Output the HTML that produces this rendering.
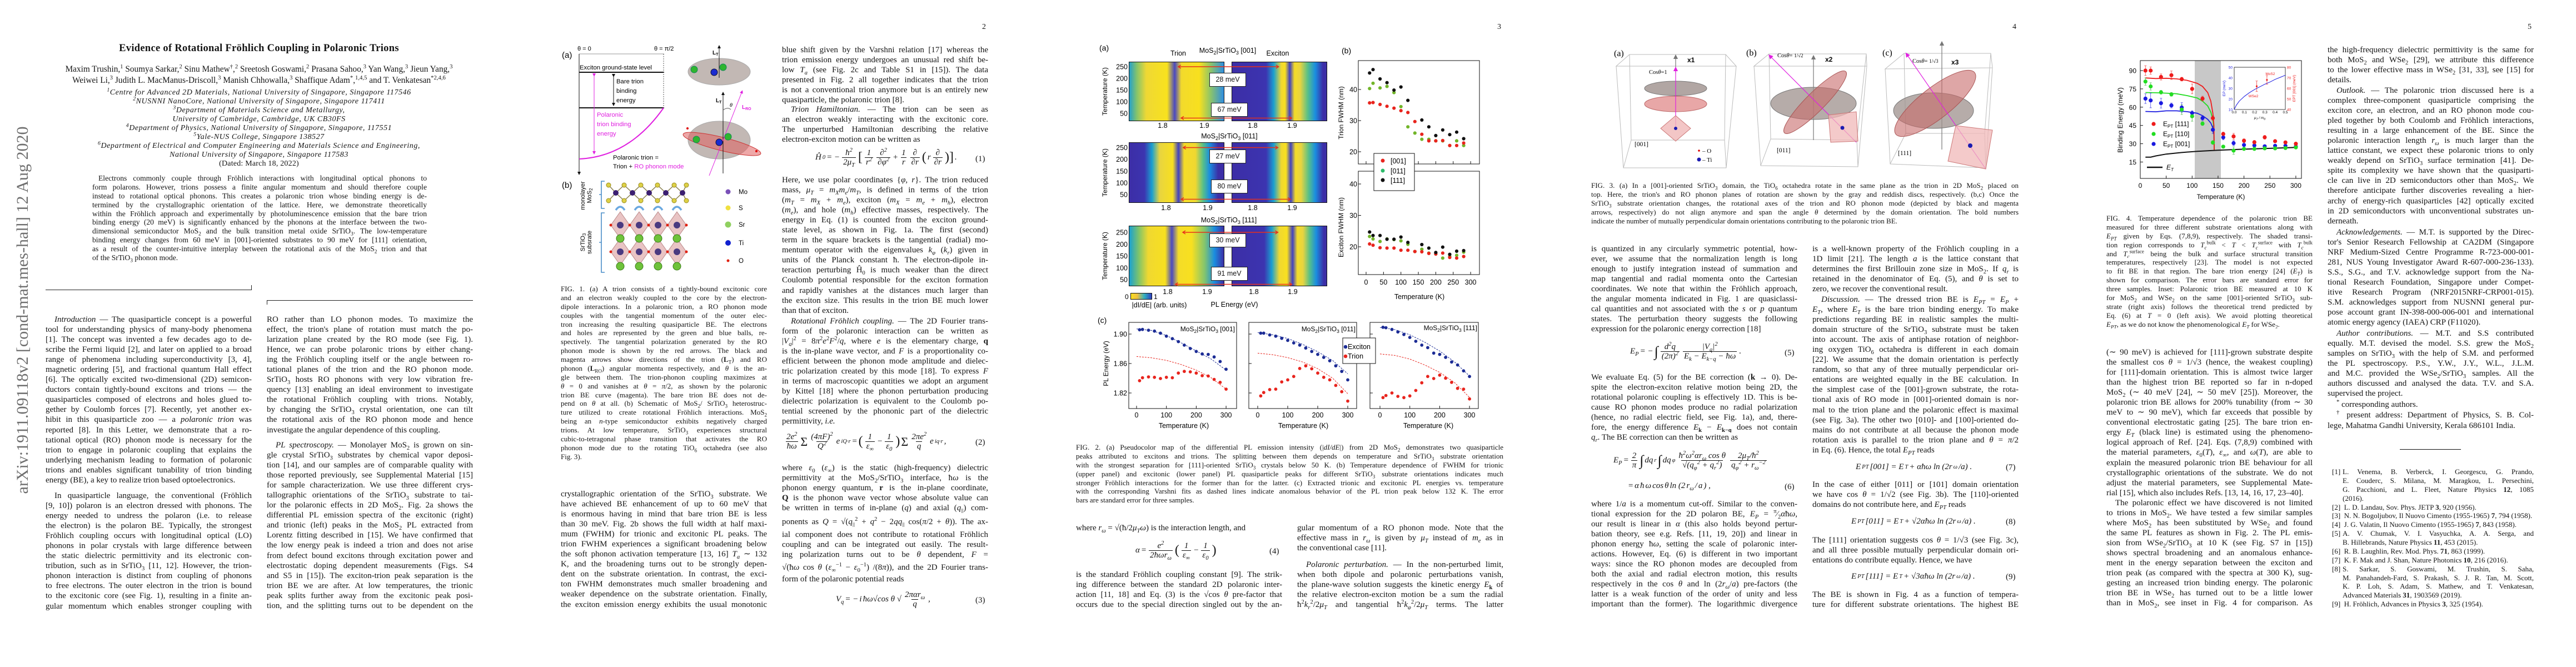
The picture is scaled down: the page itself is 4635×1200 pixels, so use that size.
<!DOCTYPE html>
<html><head><meta charset="utf-8"><title>Evidence of Rotational Fröhlich Coupling in Polaronic Trions</title>
<style>
html,body{margin:0;padding:0;background:#fff}
body{width:4635px;height:1200px;position:relative;overflow:hidden;font-family:"Liberation Serif",serif;color:#141414}
.pg{position:absolute;top:0;width:927px;height:1200px;overflow:hidden}
.a{position:absolute}
.col{position:absolute;width:371px;font-size:15px}
.col>div{height:18.06px;line-height:18.06px;text-align:justify;text-align-last:justify;overflow:hidden;white-space:normal}
.col>div.e{text-align-last:left}
.col>div.i{text-indent:16px}
.cap{position:absolute;width:371px;font-size:13px}
.cap.w{width:769px}
.cap>div{height:15.88px;line-height:15.88px;text-align:justify;text-align-last:justify;overflow:hidden}
.cap>div.e{text-align-last:left}
sub,sup{font-size:70%;line-height:0}
.pn{position:absolute;left:840px;top:41px;font-size:14px}
.eq{position:absolute;font-size:15px;font-style:italic;white-space:nowrap;display:flex;align-items:center;gap:2px}
.fr{display:inline-flex;flex-direction:column;align-items:center;vertical-align:middle;margin:0 2px}
.fr>span{line-height:16px;padding:0 2px}
.fr>span+span{border-top:1px solid #141414}
.eqn{position:absolute;left:828px;font-size:15px}
.sv{position:absolute;left:0;top:0}
.hm{position:absolute;border:1px solid #111;box-sizing:border-box}
.lb{position:absolute;font-family:"Liberation Sans",sans-serif;font-size:12.5px;white-space:nowrap}
.box{position:absolute;background:#fff;border:1.3px solid #222;box-sizing:border-box;font-family:"Liberation Sans",sans-serif;font-size:12.5px;text-align:center;line-height:22px}
</style></head>
<body>

<!-- ================= PAGE 1 ================= -->
<div class="pg" style="left:0">
  <div class="a" style="left:-309px;top:538px;width:700px;height:40px;line-height:40px;text-align:center;font-size:30px;color:#6e6e6e;transform:rotate(-90deg)">arXiv:1911.09118v2 [cond-mat.mes-hall] 12 Aug 2020</div>
  <div class="a" style="left:0;width:932px;top:77px;text-align:center;font-size:18.5px;font-weight:bold;letter-spacing:0.3px">Evidence of Rotational Fröhlich Coupling in Polaronic Trions</div>
  <div class="a" style="left:0;width:932px;top:115px;text-align:center;font-size:15.3px;line-height:19.5px">Maxim Trushin,<sup>1</sup> Soumya Sarkar,<sup>2</sup> Sinu Mathew<sup>†</sup>,<sup>2</sup> Sreetosh Goswami,<sup>2</sup> Prasana Sahoo,<sup>3</sup> Yan Wang,<sup>3</sup> Jieun Yang,<sup>3</sup><br>Weiwei Li,<sup>3</sup> Judith L. MacManus-Driscoll,<sup>3</sup> Manish Chhowalla,<sup>3</sup> Shaffique Adam<sup>*</sup>,<sup>1,4,5</sup> and T. Venkatesan<sup>*2,4,6</sup></div>
  <div class="a" style="left:0;width:932px;top:159px;text-align:center;font-size:14px;line-height:16px;font-style:italic;letter-spacing:0.55px">
    <div><sup>1</sup>Centre for Advanced 2D Materials, National University of Singapore, Singapore 117546</div>
    <div><sup>2</sup>NUSNNI NanoCore, National University of Singapore, Singapore 117411</div>
    <div><sup>3</sup>Department of Materials Science and Metallurgy,</div>
    <div>University of Cambridge, Cambridge, UK CB30FS</div>
    <div><sup>4</sup>Department of Physics, National University of Singapore, Singapore, 117551</div>
    <div><sup>5</sup>Yale-NUS College, Singapore 138527</div>
    <div><sup>6</sup>Department of Electrical and Computer Engineering and Materials Science and Engineering,</div>
    <div>National University of Singapore, Singapore 117583</div>
    <div style="font-style:normal;letter-spacing:0.2px">(Dated: March 18, 2022)</div>
  </div>
  <div class="cap" style="left:166px;top:313px;width:602px;font-size:13.6px">
    <div style="text-indent:11px">Electrons commonly couple through Fröhlich interactions with longitudinal optical phonons to</div>
    <div>form polarons. However, trions possess a finite angular momentum and should therefore couple</div>
    <div>instead to rotational optical phonons. This creates a polaronic trion whose binding energy is de-</div>
    <div>termined by the crystallographic orientation of the lattice. Here, we demonstrate theoretically</div>
    <div>within the Fröhlich approach and experimentally by photoluminescence emission that the bare trion</div>
    <div>binding energy (20 meV) is significantly enhanced by the phonons at the interface between the two-</div>
    <div>dimensional semiconductor MoS<sub>2</sub> and the bulk transition metal oxide SrTiO<sub>3</sub>. The low-temperature</div>
    <div>binding energy changes from 60 meV in [001]-oriented substrates to 90 meV for [111] orientation,</div>
    <div>as a result of the counter-intuitive interplay between the rotational axis of the MoS<sub>2</sub> trion and that</div>
    <div class="e">of the SrTiO<sub>3</sub> phonon mode.</div>
  </div>
  <div class="a" style="left:82px;top:521px;width:371px;height:0;border-top:1px solid #222"></div>
  <div class="a" style="left:452px;top:513px;width:0;height:8px;border-left:1px solid #222"></div>
  <div class="a" style="left:480px;top:540px;width:371px;height:0;border-top:1px solid #222"></div>
  <div class="a" style="left:480px;top:540px;width:0;height:8px;border-left:1px solid #222"></div>

  <div class="col" style="left:82px;top:566px">
    <div class="i"><i>Introduction</i> — The quasiparticle concept is a powerful</div>
    <div>tool for understanding physics of many-body phenomena</div>
    <div>[1]. The concept was invented a few decades ago to de-</div>
    <div>scribe the Fermi liquid [2], and later on applied to a broad</div>
    <div>range of phenomena including superconductivity [3, 4],</div>
    <div>magnetic ordering [5], and fractional quantum Hall effect</div>
    <div>[6]. The optically excited two-dimensional (2D) semicon-</div>
    <div>ductors contain tightly-bound excitons and trions — the</div>
    <div>quasiparticles composed of electrons and holes glued to-</div>
    <div>gether by Coulomb forces [7]. Recently, yet another ex-</div>
    <div>hibit in this quasiparticle zoo — a <i>polaronic trion</i> was</div>
    <div>reported [8]. In this Letter, we demonstrate that a ro-</div>
    <div>tational optical (RO) phonon mode is necessary for the</div>
    <div>trion to engage in polaronic coupling that explains the</div>
    <div>underlying mechanism leading to formation of polaronic</div>
    <div>trions and enables significant tunability of trion binding</div>
    <div class="e">energy (BE), a key to realize trion based optoelectronics.</div>
  </div>
  <div class="col" style="left:82px;top:883px">
    <div class="i">In quasiparticle language, the conventional (Fröhlich</div>
    <div>[9, 10]) polaron is an electron dressed with phonons. The</div>
    <div>energy needed to undress the polaron (i.e. to release</div>
    <div>the electron) is the polaron BE. Typically, the strongest</div>
    <div>Fröhlich coupling occurs with longitudinal optical (LO)</div>
    <div>phonons in polar crystals with large difference between</div>
    <div>the static dielectric permittivity and its electronic con-</div>
    <div>tribution, such as in SrTiO<sub>3</sub> [11, 12]. However, the trion-</div>
    <div>phonon interaction is distinct from coupling of phonons</div>
    <div>to free electrons. The outer electron in the trion is bound</div>
    <div>to the excitonic core (see Fig. 1), resulting in a finite an-</div>
    <div>gular momentum which enables stronger coupling with</div>
  </div>
  <div class="col" style="left:480px;top:566px">
    <div>RO rather than LO phonon modes. To maximize the</div>
    <div>effect, the trion's plane of rotation must match the po-</div>
    <div>larization plane created by the RO mode (see Fig. 1).</div>
    <div>Hence, we can probe polaronic trions by either chang-</div>
    <div>ing the Fröhlich coupling itself or the angle between ro-</div>
    <div>tational planes of the trion and the RO phonon mode.</div>
    <div>SrTiO<sub>3</sub> hosts RO phonons with very low vibration fre-</div>
    <div>quency [13] enabling an ideal environment to investigate</div>
    <div>the rotational Fröhlich coupling with trions. Notably,</div>
    <div>by changing the SrTiO<sub>3</sub> crystal orientation, one can tilt</div>
    <div>the rotational axis of the RO phonon mode and hence</div>
    <div class="e">investigate the angular dependence of this coupling.</div>
  </div>
  <div class="col" style="left:480px;top:792px">
    <div class="i"><i>PL spectroscopy.</i> — Monolayer MoS<sub>2</sub> is grown on sin-</div>
    <div>gle crystal SrTiO<sub>3</sub> substrates by chemical vapor deposi-</div>
    <div>tion [14], and our samples are of comparable quality with</div>
    <div>those reported previously, see Supplemental Material [15]</div>
    <div>for sample characterization. We use three different crys-</div>
    <div>tallographic orientations of the SrTiO<sub>3</sub> substrate to tai-</div>
    <div>lor the polaronic effects in 2D MoS<sub>2</sub>. Fig. 2a shows the</div>
    <div>differential PL emission spectra of the excitonic (right)</div>
    <div>and trionic (left) peaks in the MoS<sub>2</sub> PL extracted from</div>
    <div>Lorentz fitting described in [15]. We have confirmed that</div>
    <div>the low energy peak is indeed a trion and does not arise</div>
    <div>from defect bound excitons through excitation power and</div>
    <div>electrostatic doping dependent measurements (Figs. S4</div>
    <div>and S5 in [15]). The exciton-trion peak separation is the</div>
    <div>trion BE we are after. At low temperatures, the trionic</div>
    <div>peak splits further away from the excitonic peak posi-</div>
    <div>tion, and the splitting turns out to be dependent on the</div>
  </div>
</div>

<!-- ================= PAGE 2 ================= -->
<div class="pg" style="left:927px">
  <div class="pn">2</div>
  <svg class="sv" width="927" height="1200" font-family="Liberation Sans, sans-serif">
    <defs>
      <marker id="ah" markerWidth="6" markerHeight="6" refX="3" refY="3" orient="auto"><path d="M0,0 L6,3 L0,6 z" fill="#111"/></marker>
      <marker id="ahm" markerWidth="6" markerHeight="6" refX="3" refY="3" orient="auto"><path d="M0,0 L6,3 L0,6 z" fill="#e020e0"/></marker>
      <marker id="ahg" markerWidth="6" markerHeight="6" refX="3" refY="3" orient="auto"><path d="M0,0 L6,3 L0,6 z" fill="#777"/></marker>
    </defs>
    <text x="84" y="104" font-size="15">(a)</text>
    <text x="112" y="91" font-size="11">θ = 0</text>
    <text x="250" y="91" font-size="11">θ = π/2</text>
    <line x1="115" y1="97" x2="268" y2="97" stroke="#999" stroke-width="1"/>
    <line x1="115" y1="97" x2="115" y2="312" stroke="#111" stroke-width="1" marker-end="url(#ah)"/>
    <text x="116" y="125" font-size="11.3">Exciton ground-state level</text>
    <line x1="115" y1="130" x2="268" y2="130" stroke="#111" stroke-width="2"/>
    <line x1="115" y1="194" x2="268" y2="194" stroke="#111" stroke-width="2"/>
    <line x1="177" y1="136" x2="177" y2="188" stroke="#111" stroke-width="1" marker-start="url(#ah)" marker-end="url(#ah)"/>
    <text x="182" y="150" font-size="11.3">Bare trion</text>
    <text x="182" y="167" font-size="11.3">binding</text>
    <text x="182" y="184" font-size="11.3">energy</text>
    <line x1="142" y1="135" x2="142" y2="275" stroke="#e020e0" stroke-width="1" marker-start="url(#ahm)" marker-end="url(#ahm)"/>
    <text x="147" y="210" font-size="11.3" fill="#e020e0">Polaronic</text>
    <text x="147" y="227" font-size="11.3" fill="#e020e0">trion binding</text>
    <text x="147" y="244" font-size="11.3" fill="#e020e0">energy</text>
    <path d="M115,286 Q205,282 267,194" fill="none" stroke="#e020e0" stroke-width="2"/>
    <line x1="267" y1="97" x2="267" y2="194" stroke="#555" stroke-width="1" stroke-dasharray="2,2"/>
    <text x="176" y="287" font-size="11.3">Polaronic trion =</text>
    <text x="176" y="303" font-size="11.3">Trion + <tspan fill="#e020e0">RO phonon mode</tspan></text>
    <!-- top right disc -->
    <ellipse cx="367" cy="129" rx="56" ry="24" fill="#c2b8b4" stroke="#aaa"/>
    <line x1="367" y1="140" x2="367" y2="84" stroke="#111" marker-end="url(#ah)"/>
    <text x="355" y="98" font-size="10" font-weight="bold">L<tspan font-size="7" dy="2">T</tspan></text>
    <circle cx="322" cy="125" r="6" fill="#2fb52f" stroke="#185"/>
    <circle cx="374" cy="121" r="6" fill="#2fb52f" stroke="#185"/>
    <circle cx="358" cy="130" r="6" fill="#1a2bd0" stroke="#113"/>
    <!-- bottom right -->
    <ellipse cx="367" cy="252" rx="56" ry="34" fill="#c2b8b4" stroke="#aaa"/>
    <ellipse cx="372" cy="259" rx="72" ry="12" fill="#e06060" fill-opacity="0.55" stroke="#c33" transform="rotate(14 372 259)"/>
    <line x1="374" y1="312" x2="374" y2="168" stroke="#111" marker-end="url(#ah)"/>
    <text x="361" y="184" font-size="10" font-weight="bold">L<tspan font-size="7" dy="2">T</tspan></text>
    <line x1="349" y1="316" x2="408" y2="165" stroke="#e020e0" marker-end="url(#ahm)"/>
    <text x="408" y="196" font-size="10" font-weight="bold" fill="#e020e0">L<tspan font-size="7" dy="2">RO</tspan></text>
    <text x="386" y="192" font-size="9" font-style="italic">θ</text>
    <path d="M374,198 Q382,192 388,197" fill="none" stroke="#555"/>
    <circle cx="326" cy="251" r="6" fill="#2fb52f" stroke="#185"/>
    <circle cx="383" cy="246" r="6" fill="#2fb52f" stroke="#185"/>
    <circle cx="367" cy="256" r="6" fill="#1a2bd0" stroke="#113"/>
    <circle cx="310" cy="231" r="2" fill="#d00"/><circle cx="434" cy="272" r="2" fill="#d00"/>
    <!-- panel b -->
    <text x="84" y="338" font-size="15">(b)</text>
    <text transform="translate(125,352) rotate(-90)" text-anchor="middle" font-size="11">monolayer</text>
    <text transform="translate(137,352) rotate(-90)" text-anchor="middle" font-size="11">MoS<tspan font-size="8" dy="2">2</tspan></text>
    <text transform="translate(125,436) rotate(-90)" text-anchor="middle" font-size="11">SrTiO<tspan font-size="8" dy="2">3</tspan></text>
    <text transform="translate(137,436) rotate(-90)" text-anchor="middle" font-size="11">subsrate</text>
    <path d="M161,326 h-6 v49 h6 M155,350 h-4" fill="none" stroke="#4a8ec8" stroke-width="1.6"/>
    <path d="M161,383 h-6 v107 h6 M155,436 h-4" fill="none" stroke="#4a8ec8" stroke-width="1.6"/>
    <g>
      <path d="M168,333 L181,347 L196,333 L211,347 L226,333 L241,347 L256,333 L271,347 L286,333 L301,347 L308,333 M168,361 L181,347 L196,361 L211,347 L226,361 L241,347 L256,361 L271,347 L286,361 L301,347 L308,361" stroke="#8a8050" stroke-width="1.5" fill="none"/>
      <g fill="#ddd046" stroke="#998d20">
        <circle cx="168" cy="333" r="4"/><circle cx="196" cy="333" r="4"/><circle cx="226" cy="333" r="4"/><circle cx="256" cy="333" r="4"/><circle cx="286" cy="333" r="4"/><circle cx="308" cy="333" r="4"/>
        <circle cx="168" cy="361" r="4"/><circle cx="196" cy="361" r="4"/><circle cx="226" cy="361" r="4"/><circle cx="256" cy="361" r="4"/><circle cx="286" cy="361" r="4"/><circle cx="308" cy="361" r="4"/>
      </g>
      <g fill="#3b1f70"><circle cx="181" cy="347" r="5"/><circle cx="211" cy="347" r="5"/><circle cx="241" cy="347" r="5"/><circle cx="271" cy="347" r="5"/><circle cx="301" cy="347" r="5"/></g>
    </g>
    <g>
      <g fill="#e9c4c4" stroke="#b88" stroke-width="1">
        <path d="M189,381 L206,405 L189,429 L172,405 Z"/><path d="M223,381 L240,405 L223,429 L206,405 Z"/><path d="M257,381 L274,405 L257,429 L240,405 Z"/><path d="M291,381 L308,405 L291,429 L274,405 Z"/>
        <path d="M189,429 L206,453 L189,477 L172,453 Z"/><path d="M223,429 L240,453 L223,477 L206,453 Z"/><path d="M257,429 L274,453 L257,477 L240,453 Z"/><path d="M291,429 L308,453 L291,477 L274,453 Z"/>
      </g>
      <g fill="#4a3a80"><circle cx="189" cy="405" r="6"/><circle cx="223" cy="405" r="6"/><circle cx="257" cy="405" r="6"/><circle cx="291" cy="405" r="6"/><circle cx="189" cy="453" r="6"/><circle cx="223" cy="453" r="6"/><circle cx="257" cy="453" r="6"/><circle cx="291" cy="453" r="6"/></g>
      <g fill="#6ec23a" stroke="#3a7a18"><circle cx="189" cy="429" r="7"/><circle cx="223" cy="429" r="7"/><circle cx="257" cy="429" r="7"/><circle cx="291" cy="429" r="7"/><circle cx="189" cy="479" r="7"/><circle cx="223" cy="479" r="7"/><circle cx="257" cy="479" r="7"/><circle cx="291" cy="479" r="7"/></g>
      <g fill="#e02010"><circle cx="172" cy="405" r="2.5"/><circle cx="206" cy="405" r="2.5"/><circle cx="240" cy="405" r="2.5"/><circle cx="274" cy="405" r="2.5"/><circle cx="308" cy="405" r="2.5"/><circle cx="172" cy="453" r="2.5"/><circle cx="206" cy="453" r="2.5"/><circle cx="240" cy="453" r="2.5"/><circle cx="274" cy="453" r="2.5"/><circle cx="308" cy="453" r="2.5"/></g>
      <g fill="none" stroke="#6aa8e0" stroke-width="3.5"><path d="M181,378 Q189,366 197,378"/><path d="M215,378 Q223,366 231,378"/><path d="M249,378 Q257,366 265,378"/><path d="M283,378 Q291,366 299,378"/></g>
    </g>
    <g font-size="11.5">
      <circle cx="383" cy="345" r="4.5" fill="#7a50b8"/><text x="402" y="349">Mo</text>
      <circle cx="383" cy="374" r="4.5" fill="#f0e040"/><text x="402" y="378">S</text>
      <circle cx="383" cy="404" r="5.5" fill="#90d060"/><text x="402" y="408">Sr</text>
      <circle cx="383" cy="437" r="5" fill="#1020d0"/><text x="402" y="441">Ti</text>
      <circle cx="383" cy="469" r="2.5" fill="#e02010"/><text x="402" y="473">O</text>
    </g>
  </svg>
  <div class="cap" style="left:82px;top:512px">
    <div>FIG. 1. (a) A trion consists of a tightly-bound excitonic core</div>
    <div>and an electron weakly coupled to the core by the electron-</div>
    <div>dipole interactions. In a polaronic trion, a RO phonon mode</div>
    <div>couples with the tangential momentum of the outer elec-</div>
    <div>tron increasing the resulting quasiparticle BE. The electrons</div>
    <div>and holes are represented by the green and blue balls, re-</div>
    <div>spectively. The tangential polarization generated by the RO</div>
    <div>phonon mode is shown by the red arrows. The black and</div>
    <div>magenta arrows show directions of the trion (<b>L</b><sub>T</sub>) and RO</div>
    <div>phonon (<b>L</b><sub>RO</sub>) angular momenta respectively, and <i>θ</i> is the an-</div>
    <div>gle between them. The trion-phonon coupling maximizes at</div>
    <div><i>θ</i> = 0 and vanishes at <i>θ</i> = <i>π</i>/2, as shown by the polaronic</div>
    <div>trion BE curve (magenta). The bare trion BE does not de-</div>
    <div>pend on <i>θ</i> at all. (b) Schematic of MoS<sub>2</sub>/ SrTiO<sub>3</sub> heterostruc-</div>
    <div>ture utilized to create rotational Fröhlich interactions. MoS<sub>2</sub></div>
    <div>being an <i>n</i>-type semiconductor exhibits negatively charged</div>
    <div>trions. At low temperature, SrTiO<sub>3</sub> experiences structural</div>
    <div>cubic-to-tetragonal phase transition that activates the RO</div>
    <div>phonon mode due to the rotating TiO<sub>6</sub> octahedra (see also</div>
    <div class="e">Fig. 3).</div>
  </div>
  <div class="col" style="left:82px;top:880px">
    <div>crystallographic orientation of the SrTiO<sub>3</sub> substrate. We</div>
    <div>have achieved BE enhancement of up to 60 meV that</div>
    <div>is enormous having in mind that bare trion BE is less</div>
    <div>than 30 meV. Fig. 2b shows the full width at half maxi-</div>
    <div>mum (FWHM) for trionic and excitonic PL peaks. The</div>
    <div>trion FWHM experiences a significant broadening below</div>
    <div>the soft phonon activation temperature [13, 16] <i>T<sub>a</sub></i> ∼ 132</div>
    <div>K, and the broadening turns out to be strongly depen-</div>
    <div>dent on the substrate orientation. In contrast, the exci-</div>
    <div>ton FWHM demonstrates much smaller broadening and</div>
    <div>weaker dependence on the substrate orientation. Finally,</div>
    <div>the exciton emission energy exhibits the usual monotonic</div>
  </div>
  <div class="col" style="left:480px;top:81px">
    <div>blue shift given by the Varshni relation [17] whereas the</div>
    <div>trion emission energy undergoes an unusual red shift be-</div>
    <div>low <i>T<sub>a</sub></i> (see Fig. 2c and Table S1 in [15]). The data</div>
    <div>presented in Fig. 2 all together indicates that the trion</div>
    <div>is not a conventional trion anymore but is an entirely new</div>
    <div class="e">quasiparticle, the polaronic trion [8].</div>
  </div>
  <div class="col" style="left:480px;top:188px">
    <div class="i"><i>Trion Hamiltonian.</i> — The trion can be seen as</div>
    <div>an electron weakly interacting with the excitonic core.</div>
    <div>The unperturbed Hamiltonian describing the relative</div>
    <div class="e">electron-exciton motion can be written as</div>
  </div>
  <div class="eq" style="left:540px;top:267px">Ĥ<sub>0</sub> = − <span class="fr"><span>ħ<sup>2</sup></span><span>2<i>μ<sub>T</sub></i></span></span> <span style="font-size:24px;font-style:normal">[</span><span class="fr"><span>1</span><span>r<sup>2</sup></span></span><span class="fr"><span>∂<sup>2</sup></span><span>∂φ<sup>2</sup></span></span> + <span class="fr"><span>1</span><span>r</span></span><span class="fr"><span>∂</span><span>∂r</span></span><span style="font-size:24px;font-style:normal">(</span>r<span class="fr"><span>∂</span><span>∂r</span></span><span style="font-size:24px;font-style:normal">)]</span> .</div>
  <div class="eqn" style="top:278px">(1)</div>
  <div class="col" style="left:480px;top:315px">
    <div>Here, we use polar coordinates {<i>φ, r</i>}. The trion reduced</div>
    <div>mass, <i>μ<sub>T</sub></i> = <i>m<sub>X</sub>m<sub>e</sub></i>/<i>m<sub>T</sub></i>, is defined in terms of the trion</div>
    <div>(<i>m<sub>T</sub></i> = <i>m<sub>X</sub></i> + <i>m<sub>e</sub></i>), exciton (<i>m<sub>X</sub></i> = <i>m<sub>e</sub></i> + <i>m<sub>h</sub></i>), electron</div>
    <div>(<i>m<sub>e</sub></i>), and hole (<i>m<sub>h</sub></i>) effective masses, respectively. The</div>
    <div>energy in Eq. (1) is counted from the exciton ground-</div>
    <div>state level, as shown in Fig. 1a. The first (second)</div>
    <div>term in the square brackets is the tangential (radial) mo-</div>
    <div>mentum operator with the eigenvalues <i>k<sub>φ</sub></i> (<i>k<sub>r</sub></i>) given in</div>
    <div>units of the Planck constant ħ. The electron-dipole in-</div>
    <div>teraction perturbing Ĥ<sub>0</sub> is much weaker than the direct</div>
    <div>Coulomb potential responsible for the exciton formation</div>
    <div>and rapidly vanishes at the distances much larger than</div>
    <div>the exciton size. This results in the trion BE much lower</div>
    <div class="e">than that of exciton.</div>
  </div>
  <div class="col" style="left:480px;top:569px">
    <div class="i"><i>Rotational Fröhlich coupling.</i> — The 2D Fourier trans-</div>
    <div>form of the polaronic interaction can be written as</div>
    <div>|<i>V<sub>q</sub></i>|<sup>2</sup> = 8<i>π</i><sup>2</sup><i>e</i><sup>2</sup><i>F</i><sup>2</sup>/<i>q</i>, where <i>e</i> is the elementary charge, <b>q</b></div>
    <div>is the in-plane wave vector, and <i>F</i> is a proportionality co-</div>
    <div>efficient between the phonon mode amplitude and dielec-</div>
    <div>tric polarization created by this mode [18]. To express <i>F</i></div>
    <div>in terms of macroscopic quantities we adopt an argument</div>
    <div>by Kittel [18] where the phonon perturbation producing</div>
    <div>dielectric polarization is equivalent to the Coulomb po-</div>
    <div>tential screened by the phononic part of the dielectric</div>
    <div class="e">permittivity, <i>i.e.</i></div>
  </div>
  <div class="eq" style="left:484px;top:778px"><span class="fr"><span>2<i>e</i><sup>2</sup></span><span>ħω</span></span><span style="font-size:22px;font-style:normal">Σ</span><span class="fr"><span>(4πF)<sup>2</sup></span><span>Q<sup>2</sup></span></span>e<sup>iQ·r</sup> = <span style="font-size:24px;font-style:normal">(</span><span class="fr"><span>1</span><span>ε<sub>∞</sub></span></span> − <span class="fr"><span>1</span><span>ε<sub>0</sub></span></span><span style="font-size:24px;font-style:normal">)</span><span style="font-size:22px;font-style:normal">Σ</span><span class="fr"><span>2πe<sup>2</sup></span><span>q</span></span>e<sup>iq·r</sup>,</div>
  <div class="eqn" style="top:788px">(2)</div>
  <div class="col" style="left:480px;top:833px">
    <div>where <i>ε</i><sub>0</sub> (<i>ε</i><sub>∞</sub>) is the static (high-frequency) dielectric</div>
    <div>permittivity at the MoS<sub>2</sub>/SrTiO<sub>3</sub> interface, ħ<i>ω</i> is the</div>
    <div>phonon energy quantum, <b>r</b> is the in-plane coordinate,</div>
    <div><b>Q</b> is the phonon wave vector whose absolute value can</div>
    <div>be written in terms of in-plane (<i>q</i>) and axial (<i>q</i><sub>||</sub>) com-</div>
  </div>
  <div class="col" style="left:480px;top:930px">
    <div>ponents as <i>Q</i> = √(<i>q</i><sub>||</sub><sup>2</sup> + <i>q</i><sup>2</sup> − 2<i>qq</i><sub>||</sub> cos(<i>π</i>/2 + <i>θ</i>)). The ax-</div>
  </div>
  <div class="col" style="left:480px;top:953px">
    <div>ial component does not contribute to rotational Fröhlich</div>
    <div>coupling and can be integrated out easily. The result-</div>
    <div>ing polarization turns out to be <i>θ</i> dependent, <i>F</i> =</div>
  </div>
  <div class="col" style="left:480px;top:1012px">
    <div>√(ħ<i>ω</i> cos <i>θ</i> (<i>ε</i><sub>∞</sub><sup>−1</sup> − <i>ε</i><sub>0</sub><sup>−1</sup>) /(8<i>π</i>)), and the 2D Fourier trans-</div>
  </div>
  <div class="col" style="left:480px;top:1033px">
    <div class="e">form of the polaronic potential reads</div>
  </div>
  <div class="eq" style="left:577px;top:1062px"><i>V<sub>q</sub></i> = −<i>i</i>ħω√cos θ √<span class="fr"><span>2παr<sub>ω</sub></span><span>q</span></span>,</div>
  <div class="eqn" style="top:1072px">(3)</div>
</div>

<!-- ================= PAGE 3 ================= -->
<div class="pg" style="left:1854px">
  <div class="pn">3</div>
  <!-- heatmaps -->
  <div class="hm" style="left:177px;top:111px;width:172px;height:107px;background:linear-gradient(90deg,#25a0c8 0%,#86c46a 8%,#efd834 18%,#f8e21e 40%,#4a48c0 48%,#f2da2c 55%,#f8e01e 74%,#8cc46a 86%,#2e8ee0 100%)"></div>
  <div class="hm" style="left:362px;top:111px;width:172px;height:107px;background:linear-gradient(90deg,#3c2ea6 0%,#3c34b0 36%,#1aa0d0 44%,#f0d830 52%,#f8e020 56%,#4040c0 61%,#f4dc28 66%,#e8d440 72%,#58c088 80%,#1a8ee0 88%,#3c2ea6 96%)"></div>
  <div class="hm" style="left:177px;top:256px;width:172px;height:109px;background:linear-gradient(90deg,#3c2ea6 0%,#3c34b0 16%,#1aa0d0 24%,#e8d440 32%,#f8e020 46%,#4040c0 52%,#f4dc28 58%,#f0d830 70%,#58c088 78%,#1a8ee0 85%,#3c2ea6 94%)"></div>
  <div class="hm" style="left:362px;top:256px;width:172px;height:109px;background:linear-gradient(90deg,#3c2ea6 0%,#3c34b0 36%,#1aa0d0 44%,#f0d830 52%,#f8e020 57%,#4040c0 62%,#f4dc28 67%,#e8d440 73%,#58c088 81%,#1a8ee0 88%,#3c2ea6 96%)"></div>
  <div class="hm" style="left:177px;top:406px;width:172px;height:109px;background:linear-gradient(90deg,#1aa0d0 0%,#7ec46a 10%,#f0d830 20%,#f8e020 38%,#4a48c0 45%,#f4dc28 52%,#f8e020 66%,#80c470 80%,#1a8ee0 90%,#3c2ea6 100%)"></div>
  <div class="hm" style="left:362px;top:406px;width:172px;height:109px;background:linear-gradient(90deg,#3c2ea6 0%,#3c34b0 34%,#1aa0d0 42%,#f0d830 50%,#f8e020 58%,#4040c0 64%,#f4dc28 69%,#e8d440 75%,#58c088 82%,#1a8ee0 89%,#3c2ea6 97%)"></div>
  <div class="a" style="left:180px;top:527px;width:39px;height:12px;border:1px solid #111;box-sizing:border-box;background:linear-gradient(90deg,#f8e020,#f0c040 30%,#30b0c0 65%,#3040c0)"></div>

  <svg class="sv" id="fig2svg" width="927" height="1200" font-family="Liberation Sans, sans-serif" font-size="12.5">
    <text x="124" y="91" font-size="14">(a)</text>
    <text x="266" y="100" text-anchor="middle">Trion</text>
    <text x="355" y="95" text-anchor="middle">MoS<tspan font-size="9" dy="3">2</tspan><tspan dy="-3">|SrTiO</tspan><tspan font-size="9" dy="3">3</tspan><tspan dy="-3"> [001]</tspan></text>
    <text x="445" y="100" text-anchor="middle">Exciton</text>
    <text x="358" y="249" text-anchor="middle">MoS<tspan font-size="9" dy="3">2</tspan><tspan dy="-3">|SrTiO</tspan><tspan font-size="9" dy="3">3</tspan><tspan dy="-3"> [011]</tspan></text>
    <text x="357" y="400" text-anchor="middle">MoS<tspan font-size="9" dy="3">2</tspan><tspan dy="-3">|SrTiO</tspan><tspan font-size="9" dy="3">3</tspan><tspan dy="-3"> [111]</tspan></text>
    <g id="mapAxes"></g>
    <text x="170" y="538" font-size="12">0</text><text x="222" y="538" font-size="12">1</text>
    <text x="232" y="553" text-anchor="middle">|dI/dE| (arb. units)</text>
    <text x="367" y="552" text-anchor="middle">PL Energy (eV)</text>
    <!-- fig 2b -->
    <text x="560" y="96" font-size="14">(b)</text>
    <rect x="590" y="109" width="218" height="186" fill="none" stroke="#111"/>
    <rect x="590" y="308" width="218" height="186" fill="none" stroke="#111"/>
    <g id="fwhmAxes"></g>
    <text transform="translate(563,203) rotate(-90)" text-anchor="middle" font-size="12">Trion FWHM (nm)</text>
    <text transform="translate(563,409) rotate(-90)" text-anchor="middle" font-size="12">Exciton FWHM (nm)</text>
    <text x="700" y="538" text-anchor="middle">Temperature (K)</text>
    <g id="fwhmMarks"></g>
    <g>
      <rect x="618" y="276" width="73" height="67" fill="#fff" stroke="#111"/>
      <circle cx="634" cy="289" r="3.5" fill="#e8241d"/><text x="648" y="294">[001]</text>
      <circle cx="634" cy="307" r="3.5" fill="#2dbb6a"/><text x="648" y="312">[011]</text>
      <circle cx="634" cy="324" r="3.5" fill="#111"/><text x="648" y="329">[111]</text>
    </g>
    <!-- fig 2c -->
    <text x="121" y="581" font-size="14">(c)</text>
    <rect x="177" y="580" width="194" height="155" fill="none" stroke="#111"/>
    <rect x="393" y="580" width="194" height="155" fill="none" stroke="#111"/>
    <rect x="611" y="580" width="195" height="155" fill="none" stroke="#111"/>
    <text x="368" y="596" text-anchor="end" font-size="12">MoS<tspan font-size="8.5" dy="3">2</tspan><tspan dy="-3">|SrTiO</tspan><tspan font-size="8.5" dy="3">3</tspan><tspan dy="-3"> [001]</tspan></text>
    <text x="585" y="596" text-anchor="end" font-size="12">MoS<tspan font-size="8.5" dy="3">2</tspan><tspan dy="-3">|SrTiO</tspan><tspan font-size="8.5" dy="3">3</tspan><tspan dy="-3"> [011]</tspan></text>
    <text x="804" y="594" text-anchor="end" font-size="12">MoS<tspan font-size="8.5" dy="3">2</tspan><tspan dy="-3">|SrTiO</tspan><tspan font-size="8.5" dy="3">3</tspan><tspan dy="-3"> [111]</tspan></text>
    <g id="plAxes"></g>
    <text transform="translate(140,654) rotate(-90)" text-anchor="middle" font-size="12">PL Energy (eV)</text>
    <text x="276" y="770" text-anchor="middle">Temperature (K)</text>
    <text x="491" y="770" text-anchor="middle">Temperature (K)</text>
    <text x="716" y="770" text-anchor="middle">Temperature (K)</text>
    <g id="plMarks"></g>
    <g>
      <rect x="562" y="608" width="59" height="46" fill="#fff" stroke="#111"/>
      <circle cx="567" cy="624" r="3.3" fill="#1c2c95"/><text x="571" y="628">Exciton</text>
      <circle cx="567" cy="641" r="3.3" fill="#e8241d"/><text x="571" y="645">Trion</text>
    </g>
  </svg>
  <div class="box" style="left:322px;top:131px;width:66px;height:25px">28 meV</div>
  <div class="box" style="left:325px;top:185px;width:66px;height:25px">67 meV</div>
  <div class="box" style="left:322px;top:269px;width:66px;height:25px">27 meV</div>
  <div class="box" style="left:325px;top:323px;width:66px;height:25px">80 meV</div>
  <div class="box" style="left:322px;top:420px;width:66px;height:25px">30 meV</div>
  <div class="box" style="left:325px;top:480px;width:66px;height:25px">91 meV</div>

  <div class="cap w" style="left:82px;top:797px">
    <div>FIG. 2. (a) Pseudocolor map of the differential PL emission intensity (|<i>dI/dE</i>|) from 2D MoS<sub>2</sub> demonstrates two quasiparticle</div>
    <div>peaks attributed to excitons and trions. The splitting between them depends on temperature and SrTiO<sub>3</sub> substrate orientation</div>
    <div>with the strongest separation for [111]-oriented SrTiO<sub>3</sub> crystals below 50 K. (b) Temperature dependence of FWHM for trionic</div>
    <div>(upper panel) and excitonic (lower panel) PL quasiparticle peaks for different SrTiO<sub>3</sub> substrate orientations indicates much</div>
    <div>stronger Fröhlich interactions for the former than for the latter. (c) Extracted trionic and excitonic PL energies vs. temperature</div>
    <div>with the corresponding Varshni fits as dashed lines indicate anomalous behavior of the PL trion peak below 132 K. The error</div>
    <div class="e">bars are standard error for three samples.</div>
  </div>
  <div class="col" style="left:82px;top:941px">
    <div class="e">where <i>r<sub>ω</sub></i> = √(ħ/2<i>μ<sub>T</sub>ω</i>) is the interaction length, and</div>
  </div>
  <div class="eq" style="left:189px;top:974px"><i>α</i> = <span class="fr"><span>e<sup>2</sup></span><span>2ħωr<sub>ω</sub></span></span><span style="font-size:24px;font-style:normal">(</span><span class="fr"><span>1</span><span>ε<sub>∞</sub></span></span> − <span class="fr"><span>1</span><span>ε<sub>0</sub></span></span><span style="font-size:24px;font-style:normal">)</span></div>
  <div class="eqn" style="left:430px;top:984px">(4)</div>
  <div class="col" style="left:82px;top:1025px">
    <div>is the standard Fröhlich coupling constant [9]. The strik-</div>
    <div>ing difference between the standard 2D polaronic inter-</div>
    <div>action [11, 18] and Eq. (3) is the √cos <i>θ</i> pre-factor that</div>
    <div>occurs due to the special direction singled out by the an-</div>
  </div>
  <div class="col" style="left:480px;top:941px">
    <div>gular momentum of a RO phonon mode. Note that the</div>
    <div>effective mass in <i>r<sub>ω</sub></i> is given by <i>μ<sub>T</sub></i> instead of <i>m<sub>e</sub></i> as in</div>
    <div class="e">the conventional case [11].</div>
  </div>
  <div class="col" style="left:480px;top:1007px">
    <div class="i"><i>Polaronic perturbation.</i> — In the non-perturbed limit,</div>
    <div>when both dipole and polaronic perturbations vanish,</div>
    <div>the plane-wave solution suggests the kinetic energy <i>E</i><sub><b>k</b></sub> of</div>
    <div>the relative electron-exciton motion be a sum the radial</div>
    <div>ħ<sup>2</sup><i>k<sub>r</sub></i><sup>2</sup>/2<i>μ<sub>T</sub></i> and tangential ħ<sup>2</sup><i>k<sub>φ</sub></i><sup>2</sup>/2<i>μ<sub>T</sub></i> terms. The latter</div>
  </div>
</div>

<!-- ================= PAGE 4 ================= -->
<div class="pg" style="left:2781px">
  <div class="pn">4</div>
  <svg class="sv" width="927" height="1200" font-family="Liberation Serif, serif">
    <defs>
      <marker id="am3" markerWidth="7" markerHeight="7" refX="3.5" refY="3.5" orient="auto"><path d="M0,0 L7,3.5 L0,7 z" fill="#e020e0"/></marker>
      <marker id="ag3" markerWidth="7" markerHeight="7" refX="3.5" refY="3.5" orient="auto"><path d="M0,0 L7,3.5 L0,7 z" fill="#777"/></marker>
    </defs>
    <g>
      <text x="123" y="101" font-size="16">(a)</text>
      <path d="M127,119 L151,98 L324,98 L343,119 Z M127,119 L140,302 L325,302 L343,119 M151,98 L154,252 L322,252 L324,98 M154,252 L140,302 M322,252 L325,302" fill="none" stroke="#bbb" stroke-width="1"/>
      <line x1="234" y1="132" x2="234" y2="102" stroke="#777" stroke-width="1.2" marker-end="url(#ag3)"/>
      <ellipse cx="234" cy="159" rx="56" ry="13" fill="#9e908c" fill-opacity="0.8" stroke="#777"/>
      <ellipse cx="234" cy="187" rx="56" ry="14" fill="#e08a8a" fill-opacity="0.75" stroke="#b66"/>
      <line x1="234" y1="230" x2="234" y2="124" stroke="#e020e0" stroke-width="1.2" marker-end="url(#am3)"/>
      <path d="M234,208 L261,231 L234,254 L207,231 Z" fill="#f0b8b8" fill-opacity="0.8" stroke="#c77"/>
      <circle cx="234" cy="231" r="3" fill="#1a1ab0"/>
      <text x="255" y="112" font-size="12" font-weight="bold" font-family="Liberation Sans, sans-serif">x1</text>
      <text x="186" y="133" font-size="10.5">Cos<tspan font-style="italic">θ</tspan>=1</text>
      <text x="160" y="263" font-size="11.5">[001]</text>
      <circle cx="276" cy="271" r="1.8" fill="#d00"/><text x="282" y="275" font-size="11">– O</text>
      <circle cx="276" cy="287" r="3.5" fill="#1a1ab0"/><text x="282" y="291" font-size="11">– Ti</text>
    </g>
    <g>
      <text x="361" y="100" font-size="16">(b)</text>
      <path d="M375,119 L402,97 L577,97 L578,119 Z M375,119 L387,298 L562,300 L578,119 M402,97 L405,250 L560,252 L577,97 M405,250 L387,298 M560,252 L562,300" fill="none" stroke="#bbb" stroke-width="1"/>
      <line x1="482" y1="252" x2="482" y2="103" stroke="#777" stroke-width="1.2" marker-end="url(#ag3)"/>
      <ellipse cx="482" cy="186" rx="77" ry="29" fill="#9e908c" fill-opacity="0.75" stroke="#777"/>
      <ellipse cx="485" cy="184" rx="78" ry="17" fill="#c86a6a" fill-opacity="0.6" stroke="#a55" transform="rotate(-45 485 184)"/>
      <line x1="559" y1="256" x2="404" y2="101" stroke="#e020e0" stroke-width="1.2" marker-end="url(#am3)"/>
      <path d="M509,207 L559,201 L562,254 L513,256 Z" fill="#f0b8b8" fill-opacity="0.75" stroke="#c77"/>
      <circle cx="534" cy="230" r="3.5" fill="#1a1ab0"/>
      <text x="503" y="111" font-size="12" font-weight="bold" font-family="Liberation Sans, sans-serif">x2</text>
      <text x="417" y="103" font-size="10.5">Cos<tspan font-style="italic">θ</tspan>= <tspan font-size="9">1/√2</tspan></text>
      <text x="416" y="274" font-size="11.5">[011]</text>
    </g>
    <g>
      <text x="606" y="100" font-size="16">(c)</text>
      <path d="M611,124 L645,96 L801,96 L804,122 Z M611,124 L620,295 L792,302 L804,122 M645,96 L648,240 L790,240 L801,96 M648,240 L620,295 M790,240 L792,302" fill="none" stroke="#bbb" stroke-width="1"/>
      <line x1="713" y1="269" x2="713" y2="78" stroke="#777" stroke-width="1.2" marker-end="url(#ag3)"/>
      <ellipse cx="698" cy="199" rx="72" ry="32" fill="#9e908c" fill-opacity="0.75" stroke="#777"/>
      <ellipse cx="701" cy="186" rx="90" ry="28" fill="#c86a6a" fill-opacity="0.6" stroke="#a55" transform="rotate(-38 701 186)"/>
      <line x1="792" y1="304" x2="650" y2="98" stroke="#e020e0" stroke-width="1.2" marker-end="url(#am3)"/>
      <path d="M738,226 L804,234 L792,304 L724,290 Z" fill="#f0b8b8" fill-opacity="0.75" stroke="#c77"/>
      <circle cx="764" cy="262" r="4" fill="#1a1ab0"/>
      <text x="730" y="116" font-size="12" font-weight="bold" font-family="Liberation Sans, sans-serif">x3</text>
      <text x="660" y="113" font-size="10.5">Cos<tspan font-style="italic">θ</tspan>= <tspan font-size="9">1/√3</tspan></text>
      <text x="634" y="279" font-size="11.5">[111]</text>
    </g>
  </svg>
  <div class="cap w" style="left:82px;top:326px">
    <div>FIG. 3. (a) In a [001]-oriented SrTiO<sub>3</sub> domain, the TiO<sub>6</sub> octahedra rotate in the same plane as the trion in 2D MoS<sub>2</sub> placed on</div>
    <div>top. Here, the trion's and RO phonon planes of rotation are shown by the gray and reddish discs, respectively. (b,c) Once the</div>
    <div>SrTiO<sub>3</sub> substrate orientation changes, the rotational axes of the trion and RO phonon mode (depicted by black and magenta</div>
    <div>arrows, respectively) do not align anymore and span the angle <i>θ</i> determined by the domain orientation. The bold numbers</div>
    <div class="e">indicate the number of mutually perpendicular domain orientations contributing to the polaronic trion BE.</div>
  </div>
  <div class="col" style="left:82px;top:439px">
    <div>is quantized in any circularly symmetric potential, how-</div>
    <div>ever, we assume that the normalization length is long</div>
    <div>enough to justify integration instead of summation and</div>
    <div>map tangential and radial momenta onto the Cartesian</div>
    <div>coordinates. We note that within the Fröhlich approach,</div>
    <div>the angular momenta indicated in Fig. 1 are quasiclassi-</div>
    <div>cal quantities and not associated with the <i>s</i> or <i>p</i> quantum</div>
    <div>states. The perturbation theory suggests the following</div>
    <div class="e">expression for the polaronic energy correction [18]</div>
  </div>
  <div class="eq" style="left:152px;top:616px"><i>E<sub>P</sub></i> = − <span style="font-size:26px;font-style:normal">∫</span><span class="fr"><span>d<sup>2</sup>q</span><span>(2π)<sup>2</sup></span></span><span class="fr"><span>|V<sub>q</sub>|<sup>2</sup></span><span>E<sub>k</sub> − E<sub>k−q</sub> − ħω</span></span>.</div>
  <div class="eqn" style="left:430px;top:627px">(5)</div>
  <div class="col" style="left:82px;top:670px">
    <div>We evaluate Eq. (5) for the BE correction (<b>k</b> → 0). De-</div>
    <div>spite the electron-exciton relative motion being 2D, the</div>
    <div>rotational polaronic coupling is effectively 1D. This is be-</div>
    <div>cause RO phonon modes produce no radial polarization</div>
    <div>(hence, no radial electric field, see Fig. 1a), and, there-</div>
    <div>fore, the energy difference <i>E</i><sub><b>k</b></sub> − <i>E</i><sub><b>k−q</b></sub> does not contain</div>
    <div class="e"><i>q<sub>r</sub></i>. The BE correction can then be written as</div>
  </div>
  <div class="eq" style="left:122px;top:812px"><i>E<sub>P</sub></i> = <span class="fr"><span>2</span><span>π</span></span><span style="font-size:26px;font-style:normal">∫</span>dq<sub>r</sub><span style="font-size:26px;font-style:normal">∫</span>dq<sub>φ</sub><span class="fr"><span>ħ<sup>2</sup>ω<sup>2</sup>αr<sub>ω</sub> cos θ</span><span>√(q<sub>φ</sub><sup>2</sup> + q<sub>r</sub><sup>2</sup>)</span></span><span class="fr"><span>2μ<sub>T</sub>/ħ<sup>2</sup></span><span>q<sub>φ</sub><sup>2</sup> + r<sub>ω</sub><sup>−2</sup></span></span></div>
  <div class="eq" style="left:148px;top:866px">= <i>α</i>ħ<i>ω</i> cos <i>θ</i> ln (2<i>r<sub>ω</sub></i>/<i>a</i>) ,</div>
  <div class="eqn" style="left:430px;top:868px">(6)</div>
  <div class="col" style="left:82px;top:898px">
    <div>where 1/<i>a</i> is a momentum cut-off. Similar to the conven-</div>
    <div>tional expression for the 2D polaron BE, <i>E<sub>P</sub></i> = <sup>π</sup>⁄<sub>2</sub><i>α</i>ħ<i>ω</i>,</div>
    <div>our result is linear in <i>α</i> (this also holds beyond pertur-</div>
    <div>bation theory, see e.g. Refs. [11, 19, 20]) and linear in</div>
    <div>phonon energy ħ<i>ω</i>, setting the scale of polaronic inter-</div>
    <div>actions. However, Eq. (6) is different in two important</div>
    <div>ways: since the RO phonon modes are decoupled from</div>
    <div>both the axial and radial electron motion, this results</div>
    <div>respectively in the cos <i>θ</i> and ln (2<i>r<sub>ω</sub></i>/<i>a</i>) pre-factors (the</div>
    <div>latter is a weak function of the order of unity and less</div>
    <div>important than the former). The logarithmic divergence</div>
  </div>
  <div class="col" style="left:480px;top:439px">
    <div>is a well-known property of the Fröhlich coupling in a</div>
    <div>1D limit [21]. The length <i>a</i> is the lattice constant that</div>
    <div>determines the first Brillouin zone size in MoS<sub>2</sub>. If <i>q<sub>r</sub></i> is</div>
    <div>retained in the denominator of Eq. (5), and <i>θ</i> is set to</div>
    <div class="e">zero, we recover the conventional result.</div>
  </div>
  <div class="col" style="left:480px;top:530px">
    <div class="i"><i>Discussion.</i> — The dressed trion BE is <i>E<sub>PT</sub></i> = <i>E<sub>P</sub></i> +</div>
    <div><i>E<sub>T</sub></i>, where <i>E<sub>T</sub></i> is the bare trion binding energy. To make</div>
    <div>predictions regarding BE in realistic samples the multi-</div>
    <div>domain structure of the SrTiO<sub>3</sub> substrate must be taken</div>
    <div>into account. The axis of antiphase rotation of neighbor-</div>
    <div>ing oxygen TiO<sub>6</sub> octahedra is different in each domain</div>
    <div>[22]. We assume that the domain orientation is perfectly</div>
    <div>random, so that any of three mutually perpendicular ori-</div>
    <div>entations are weighted equally in the BE calculation. In</div>
    <div>the simplest case of the [001]-grown substrate, the rota-</div>
    <div>tional axis of RO mode in [001]-oriented domain is nor-</div>
    <div>mal to the trion plane and the polaronic effect is maximal</div>
    <div>(see Fig. 3a). The other two [010]- and [100]-oriented do-</div>
    <div>mains do not contribute at all because the phonon mode</div>
    <div>rotation axis is parallel to the trion plane and <i>θ</i> = <i>π</i>/2</div>
    <div class="e">in Eq. (6). Hence, the total <i>E<sub>PT</sub></i> reads</div>
  </div>
  <div class="eq" style="left:558px;top:832px">E<sub>PT</sub>[001] = E<sub>T</sub> + αħω ln (2r<sub>ω</sub>/a) .</div>
  <div class="eqn" style="top:833px">(7)</div>
  <div class="col" style="left:480px;top:863px">
    <div>In the case of either [011] or [101] domain orientation</div>
    <div>we have cos <i>θ</i> = 1/√2 (see Fig. 3b). The [110]-oriented</div>
    <div class="e">domains do not contribute here, and <i>E<sub>PT</sub></i> reads</div>
  </div>
  <div class="eq" style="left:550px;top:930px">E<sub>PT</sub>[011] = E<sub>T</sub> + √2αħω ln (2r<sub>ω</sub>/a) .</div>
  <div class="eqn" style="top:931px">(8)</div>
  <div class="col" style="left:480px;top:963px">
    <div>The [111] orientation suggests cos <i>θ</i> = 1/√3 (see Fig. 3c),</div>
    <div>and all three possible mutually perpendicular domain ori-</div>
    <div class="e">entations do contribute equally. Hence, we have</div>
  </div>
  <div class="eq" style="left:550px;top:1029px">E<sub>PT</sub>[111] = E<sub>T</sub> + √3αħω ln (2r<sub>ω</sub>/a) .</div>
  <div class="eqn" style="top:1030px">(9)</div>
  <div class="col" style="left:480px;top:1061px">
    <div>The BE is shown in Fig. 4 as a function of tempera-</div>
    <div>ture for different substrate orientations. The highest BE</div>
  </div>
</div>

<!-- ================= PAGE 5 ================= -->
<div class="pg" style="left:3708px">
  <div class="pn">5</div>
  <svg class="sv" id="fig4svg" width="927" height="1200" font-family="Liberation Sans, sans-serif" font-size="12">
    <rect x="241" y="109" width="47" height="212" fill="#c8c8c8"/>
    <rect x="143" y="109" width="290" height="212" fill="none" stroke="#111"/>
    <g id="beAxes"></g>
    <text transform="translate(111,216) rotate(-90)" text-anchor="middle" font-size="12">Binding Energy (meV)</text>
    <text x="288" y="358" text-anchor="middle">Temperature (K)</text>
    <g id="beMarks"></g>
    <g>
      <circle cx="167" cy="223" r="3.6" fill="#ee1c1c"/><text x="184" y="227">E<tspan font-size="8" dy="3">PT</tspan><tspan dy="-3"> [111]</tspan></text>
      <circle cx="167" cy="241" r="3.6" fill="#22dd22"/><text x="184" y="245">E<tspan font-size="8" dy="3">PT</tspan><tspan dy="-3"> [110]</tspan></text>
      <circle cx="167" cy="259" r="3.6" fill="#1a1ae0"/><text x="184" y="263">E<tspan font-size="8" dy="3">PT</tspan><tspan dy="-3"> [001]</tspan></text>
      <line x1="155" y1="301" x2="183" y2="301" stroke="#111" stroke-width="2.5"/><text x="190" y="305" font-style="italic">E<tspan font-size="8" dy="3">T</tspan></text>
    </g>
    <rect x="312" y="121" width="92" height="76" fill="#fff" stroke="#111" stroke-width="0.8"/>
    <g id="insetAxes" font-size="6.5"></g>
    <text transform="translate(296,159) rotate(-90)" text-anchor="middle" font-size="6.5" fill="#1a1ae0">E<tspan font-style="italic">P</tspan> (meV)</text>
    <text transform="translate(422,159) rotate(-90)" text-anchor="middle" font-size="6.5" fill="#ee1c1c">EPT [001] (meV)</text>
    <text x="358" y="214" text-anchor="middle" font-size="6.5" font-style="italic">μ<tspan font-size="5" dy="2">T</tspan><tspan dy="-2"> / m</tspan><tspan font-size="5" dy="2">0</tspan></text>
    <g id="insetMarks"></g>
  </svg>
  <div class="cap" style="left:82px;top:385px">
    <div>FIG. 4. Temperature dependence of the polaronic trion BE</div>
    <div>measured for three different substrate orientations along with</div>
    <div><i>E<sub>PT</sub></i> given by Eqs. (7,8,9), respectively. The shaded transi-</div>
    <div>tion region corresponds to <i>T<sub>c</sub></i><sup>bulk</sup> &lt; <i>T</i> &lt; <i>T<sub>c</sub></i><sup>surface</sup> with <i>T<sub>c</sub></i><sup>bulk</sup></div>
    <div>and <i>T<sub>c</sub></i><sup>surface</sup> being the bulk and surface structural transition</div>
    <div>temperatures, respectively [23]. The model is not expected</div>
    <div>to fit BE in that region. The bare trion energy [24] (<i>E<sub>T</sub></i>) is</div>
    <div>shown for comparison. The error bars are standard error for</div>
    <div>three samples. Inset: Polaronic trion BE measured at 10 K</div>
    <div>for MoS<sub>2</sub> and WSe<sub>2</sub> on the same [001]-oriented SrTiO<sub>3</sub> sub-</div>
    <div>strate (right axis) follows the theoretical trend predicted by</div>
    <div>Eq. (6) at <i>T</i> = 0 (left axis). We avoid plotting theoretical</div>
    <div class="e"><i>E<sub>PT</sub></i>, as we do not know the phenomenological <i>E<sub>T</sub></i> for WSe<sub>2</sub>.</div>
  </div>
  <div class="col" style="left:82px;top:625px">
    <div>(∼ 90 meV) is achieved for [111]-grown substrate despite</div>
    <div>the smallest cos <i>θ</i> = 1/√3 (hence, the weakest coupling)</div>
    <div>for [111]-domain orientation. This is almost twice larger</div>
    <div>than the highest trion BE reported so far in n-doped</div>
    <div>MoS<sub>2</sub> (∼ 40 meV [24], ∼ 50 meV [25]). Moreover, the</div>
    <div>polaronic trion BE allows for 200% tunability (from ∼ 30</div>
    <div>meV to ∼ 90 meV), which far exceeds that possible by</div>
    <div>conventional electrostatic gating [25]. The bare trion en-</div>
    <div>ergy <i>E<sub>T</sub></i> (black line) is estimated using the phenomeno-</div>
    <div>logical approach of Ref. [24]. Eqs. (7,8,9) combined with</div>
    <div>the material parameters, <i>ε</i><sub>0</sub>(<i>T</i>), <i>ε</i><sub>∞</sub>, and <i>ω</i>(<i>T</i>), are able to</div>
    <div>explain the measured polaronic trion BE behaviour for all</div>
    <div>crystallographic orientations of the substrate. We do not</div>
    <div>adjust the material parameters, see Supplemental Mate-</div>
    <div class="e">rial [15], which also includes Refs. [13, 14, 16, 17, 23–40].</div>
    <div class="i">The polaronic effect we have discovered is not limited</div>
    <div>to trions in MoS<sub>2</sub>. We have tested a few similar samples</div>
    <div>where MoS<sub>2</sub> has been substituted by WSe<sub>2</sub> and found</div>
    <div>the same PL features as shown in Fig. 2. The PL emis-</div>
    <div>sion from WSe<sub>2</sub>/SrTiO<sub>3</sub> at 10 K (see Fig. S7 in [15])</div>
    <div>shows spectral broadening and an anomalous enhance-</div>
    <div>ment in the energy separation between the exciton and</div>
    <div>trion peak (as compared with the spectra at 300 K), sug-</div>
    <div>gesting an increased trion binding energy. The polaronic</div>
    <div>trion BE in WSe<sub>2</sub> has turned out to be a little lower</div>
    <div>than in MoS<sub>2</sub>, see inset in Fig. 4 for comparison. As</div>
  </div>
  <div class="col" style="left:480px;top:81px">
    <div>the high-frequency dielectric permittivity is the same for</div>
    <div>both MoS<sub>2</sub> and WSe<sub>2</sub> [29], we attribute this difference</div>
    <div>to the lower effective mass in WSe<sub>2</sub> [31, 33], see [15] for</div>
    <div class="e">details.</div>
  </div>
  <div class="col" style="left:480px;top:154px">
    <div class="i"><i>Outlook.</i> — The polaronic trion discussed here is a</div>
    <div>complex three-component quasiparticle comprising the</div>
    <div>exciton core, an electron, and an RO phonon mode cou-</div>
    <div>pled together by both Coulomb and Fröhlich interactions,</div>
    <div>resulting in a large enhancement of the BE. Since the</div>
    <div>polaronic interaction length <i>r<sub>ω</sub></i> is much larger than the</div>
    <div>lattice constant, we expect these polaronic trions to only</div>
    <div>weakly depend on SrTiO<sub>3</sub> surface termination [41]. De-</div>
    <div>spite its complexity we have shown that the quasiparti-</div>
    <div>cle can live in 2D semiconductors other than MoS<sub>2</sub>. We</div>
    <div>therefore anticipate further discoveries revealing a hier-</div>
    <div>archy of energy-rich quasiparticles [42] optically excited</div>
    <div>in 2D semiconductors with unconventional substrates un-</div>
    <div class="e">derneath.</div>
  </div>
  <div class="col" style="left:480px;top:409px">
    <div class="i"><i>Acknowledgements.</i> — M.T. is supported by the Direc-</div>
    <div>tor's Senior Research Fellowship at CA2DM (Singapore</div>
    <div>NRF Medium-Sized Centre Programme R-723-000-001-</div>
    <div>281, NUS Young Investigator Award R-607-000-236-133).</div>
    <div>S.S., S.G., and T.V. acknowledge support from the Na-</div>
    <div>tional Research Foundation, Singapore under Compet-</div>
    <div>itive Research Program (NRF2015NRF-CRP001-015).</div>
    <div>S.M. acknowledges support from NUSNNI general pur-</div>
    <div>pose account grant IN-398-000-006-001 and international</div>
    <div class="e">atomic energy agency (IAEA) CRP (F11020).</div>
  </div>
  <div class="col" style="left:480px;top:591px">
    <div class="i"><i>Author contributions.</i> — M.T. and S.S contributed</div>
    <div>equally. M.T. devised the model. S.S. grew the MoS<sub>2</sub></div>
    <div>samples on SrTiO<sub>3</sub> with the help of S.M. and performed</div>
    <div>the PL spectroscopy. P.S., Y.W., J.Y., W.L., J.L.M.</div>
    <div>and M.C. provided the WSe<sub>2</sub>/SrTiO<sub>3</sub> samples. All the</div>
    <div>authors discussed and analysed the data. T.V. and S.A.</div>
    <div class="e">supervised the project.</div>
  </div>
  <div class="col" style="left:480px;top:719px">
    <div class="e" style="height:19px;line-height:19px;text-indent:16px"><sup>*</sup> corresponding authors.</div>
    <div style="height:19px;line-height:19px;text-indent:16px"><sup>†</sup> present address: Department of Physics, S. B. Col-</div>
    <div class="e" style="height:19px;line-height:19px">lege, Mahatma Gandhi University, Kerala 686101 India.</div>
  </div>
  <div class="a" style="left:610px;top:808px;width:110px;height:0;border-top:1.6px solid #111"></div>
  <div class="cap" style="left:488px;top:841px;width:363px">
    <div class="e" style="position:relative;padding-left:19px"><span style="position:absolute;left:0">[1]</span><span style="display:block;text-align:justify;text-align-last:justify">L. Venema, B. Verberck, I. Georgescu, G. Prando,</span></div>
    <div style="padding-left:19px">E. Couderc, S. Milana, M. Maragkou, L. Persechini,</div>
    <div style="padding-left:19px">G. Pacchioni, and L. Fleet, Nature Physics <b>12</b>, 1085</div>
    <div class="e" style="padding-left:19px">(2016).</div>
    <div class="e">[2]&nbsp; L. D. Landau, Sov. Phys. JETP <b>3</b>, 920 (1956).</div>
    <div class="e" style="overflow:visible">[3]&nbsp; N. N. Bogoljubov, Il Nuovo Cimento (1955-1965) <b>7</b>, 794 (1958).</div>
    <div class="e">[4]&nbsp; J. G. Valatin, Il Nuovo Cimento (1955-1965) <b>7</b>, 843 (1958).</div>
    <div class="e" style="position:relative;padding-left:19px"><span style="position:absolute;left:0">[5]</span><span style="display:block;text-align:justify;text-align-last:justify">A. V. Chumak, V. I. Vasyuchka, A. A. Serga, and</span></div>
    <div class="e" style="padding-left:19px">B. Hillebrands, Nature Physics <b>11</b>, 453 (2015).</div>
    <div class="e">[6]&nbsp; R. B. Laughlin, Rev. Mod. Phys. <b>71</b>, 863 (1999).</div>
    <div class="e">[7]&nbsp; K. F. Mak and J. Shan, Nature Photonics <b>10</b>, 216 (2016).</div>
    <div class="e" style="position:relative;padding-left:19px"><span style="position:absolute;left:0">[8]</span><span style="display:block;text-align:justify;text-align-last:justify">S. Sarkar, S. Goswami, M. Trushin, S. Saha,</span></div>
    <div style="padding-left:19px">M. Panahandeh-Fard, S. Prakash, S. J. R. Tan, M. Scott,</div>
    <div style="padding-left:19px">K. P. Loh, S. Adam, S. Mathew, and T. Venkatesan,</div>
    <div class="e" style="padding-left:19px">Advanced Materials <b>31</b>, 1903569 (2019).</div>
    <div class="e">[9]&nbsp; H. Fröhlich, Advances in Physics <b>3</b>, 325 (1954).</div>
  </div>
</div>

<script>
// ---------------- Figure 2a: peak-position traces (eV) vs temperature (K) ----------------
const mapTemps = [30, 50, 100, 150, 200, 250, 270];
const trionPeak001 = [1.844, 1.843, 1.842, 1.841, 1.839, 1.837, 1.836];
const excitonPeak001 = [1.899, 1.897, 1.890, 1.882, 1.874, 1.866, 1.862];
const trionPeak011 = [1.836, 1.838, 1.845, 1.851, 1.848, 1.841, 1.838];
const excitonPeak011 = [1.896, 1.894, 1.888, 1.880, 1.872, 1.864, 1.861];
const trionPeak111 = [1.819, 1.826, 1.838, 1.845, 1.847, 1.838, 1.832];
const excitonPeak111 = [1.898, 1.896, 1.889, 1.880, 1.871, 1.862, 1.858];
const mapTempTicks = [250, 200, 150, 100, 50];
const mapEnergyTicks = [1.8, 1.9];

// ---------------- Figure 2b: FWHM (nm) ----------------
const fwhmTemps = [10, 20, 40, 60, 80, 100, 120, 140, 160, 180, 200, 220, 240, 260, 280];
const fwhmTempsBlack = [10, 20, 40, 60, 80, 100, 120, 160, 180, 200, 220, 240, 260, 280];
const trionFwhm001 = [35.7, 35.8, 35.2, 34.6, 34.0, 33.2, 32.6, 29.7, 25.6, 23.5, 23.5, 23.6, 22.0, 22.0, 22.8];
const trionFwhm011 = [40.3, 42.0, 40.5, 41.0, 39.0, 34.5, 28.0, 26.0, 24.0, 24.0, 23.5, 23.5, 22.0, 23.5, 22.0];
const trionFwhm111 = [45.3, 46.4, 43.4, 42.2, 39.8, 40.8, 36.5, 30.2, 28.0, 25.2, 27.0, 25.5, 26.3, 24.2];
const excitonFwhm001 = [20.9, 20.5, 19.7, 19.6, 19.6, 18.9, 18.9, 18.5, 18.4, 17.9, 17.7, 18.0, 16.6, 16.4, 16.9];
const excitonFwhm011 = [23.3, 22.5, 21.7, 22.5, 22.3, 21.9, 20.8, 18.5, 19.2, 18.0, 17.7, 16.4, 16.9, 17.3, 18.3];
const excitonFwhm111 = [24.7, 23.6, 23.6, 22.4, 22.4, 23.1, 21.4, 20.7, 19.6, 18.2, 19.9, 17.6, 18.6, 18.8];
const fwhmYTicks = [40, 30, 20];
const fwhmXTicks = [0, 50, 100, 150, 200, 250, 300];

// ---------------- Figure 2c: PL energy (eV) ----------------
const plTemps = [10, 20, 40, 60, 80, 100, 120, 140, 160, 180, 200, 220, 240, 260, 280, 300];
const excitonPL001 = [1.9058, 1.9063, 1.9052, 1.904, 1.9012, 1.8971, 1.8937, 1.8897, 1.885, 1.8804, 1.8764, 1.873, 1.8724, 1.8689, 1.8627, 1.8522];
const trionPL001 = [1.8367, 1.8407, 1.8418, 1.8413, 1.8396, 1.8413, 1.8407, 1.847, 1.8493, 1.8487, 1.847, 1.8435, 1.843, 1.8384, 1.8344, 1.8252];
const excitonPL011 = [1.9012, 1.9012, 1.8988, 1.8971, 1.8942, 1.8914, 1.8879, 1.885, 1.881, 1.8764, 1.8724, 1.8683, 1.8637, 1.8568, 1.8493, 1.8378];
const trionPL011 = [1.816, 1.8206, 1.8246, 1.8252, 1.835, 1.8378, 1.8424, 1.8533, 1.8568, 1.8528, 1.847, 1.8413, 1.8378, 1.8303, 1.8217, 1.809];
const excitonPL111 = [1.9092, 1.9086, 1.9063, 1.9029, 1.8994, 1.8954, 1.8902, 1.885, 1.8816, 1.8741, 1.8724, 1.8683, 1.862, 1.858, 1.85, 1.8424];
const trionPL111 = [1.8137, 1.8165, 1.82, 1.8154, 1.8137, 1.816, 1.8234, 1.8338, 1.8424, 1.8396, 1.8442, 1.8401, 1.8344, 1.8263, 1.8252, 1.8119];
const fitTemps = [0, 50, 100, 150, 200, 250, 300];
const excitonFit001 = [1.907, 1.905, 1.898, 1.888, 1.877, 1.866, 1.851];
const trionFit001 = [1.8695, 1.8678, 1.8643, 1.8586, 1.8511, 1.8407, 1.8252];
const excitonFit011 = [1.902, 1.899, 1.894, 1.886, 1.876, 1.864, 1.846];
const trionFit011 = [1.874, 1.872, 1.868, 1.862, 1.853, 1.840, 1.819];
const excitonFit111 = [1.909, 1.906, 1.899, 1.889, 1.877, 1.862, 1.843];
const trionFit111 = [1.873, 1.871, 1.866, 1.858, 1.848, 1.834, 1.814];
const plYTicks = [1.90, 1.86, 1.82];
const plXTicks = [0, 100, 200, 300];

// ---------------- Figure 4: binding energy (meV) ----------------
const beTemps = [10, 20, 40, 60, 80, 100, 120, 140, 160, 180, 200, 220, 240, 260, 280, 300];
const be111 = [90, 90, 84.8, 86.2, 83, 75, 67, 51, 38, 36, 32.5, 31.2, 35.3, 32.1, 31.1, 30];
const be110 = [81, 77, 72.2, 70.5, 58, 52.5, 46.5, 31, 27.6, 24.4, 25.8, 25.8, 26.2, 26.2, 26.5, 27];
const be001 = [67, 65.5, 63.3, 61.4, 59.7, 55.1, 51, 41.5, 35.2, 30.5, 29, 28.6, 27.9, 28.3, 28.3, 27.6];
const be111Err = [4, 3, 2.5, 3.5, 1.5, 4, 2, 2, 1.5, 2.5, 1.5, 1.5, 1.5, 1, 1, 1];
const be110Err = [3, 3, 1.5, 1.5, 4, 4, 1.5, 1.5, 1, 3, 1, 1, 1, 1, 1, 1];
const be001Err = [4, 6, 4, 2, 4, 2, 2, 3, 2, 2, 2, 1.5, 1, 1, 1, 1];
const modelTemps = [10, 30, 50, 70, 90, 110, 120, 130, 136, 140, 142, 142.5];
const model111 = [84, 83.5, 83.7, 83.2, 82, 79.5, 77, 72, 65, 55, 45, 25];
const model110 = [72, 71.8, 71.5, 71, 69.5, 67.5, 65, 61, 56, 50, 42, 25];
const model001 = [56.5, 56.2, 57, 57, 56.3, 55, 53, 50, 47, 43, 37, 25];
const etTemps = [10, 20, 30, 50, 80, 110, 150, 200, 250, 300];
const etValues = [19, 19, 20, 21.5, 22.8, 23.8, 24.7, 25.5, 26.2, 27];
const beYTicks = [90, 75, 60, 45, 30, 15];
const beXTicks = [0, 50, 100, 150, 200, 250, 300];
const insetMu = [0, 0.02, 0.05, 0.1, 0.15, 0.2, 0.25, 0.3, 0.35, 0.4, 0.45, 0.5];
const insetEp = [10, 14, 18, 22.5, 26, 29, 31.5, 34, 36, 38.5, 40.5, 42.5];
const insetSampleMu = [0.22, 0.32];
const insetSampleBE = [62, 68];
const insetSampleErr = [5, 4];
const insetSampleNames = ['WSe2', 'MoS2'];
const insetXTicks = [0.0, 0.1, 0.2, 0.3, 0.4, 0.5];
const insetLeftTicks = [10, 20, 30, 40, 50];
const insetRightTicks = [40, 50, 60, 70, 80];

const NS = 'http://www.w3.org/2000/svg';
function el(parent, tag, attrs) {
  const e = document.createElementNS(NS, tag);
  for (const k in attrs) e.setAttribute(k, attrs[k]);
  parent.appendChild(e);
  return e;
}
function txt(parent, x, y, s, anchor, extra) {
  const t = el(parent, 'text', Object.assign({ x: x, y: y, 'text-anchor': anchor || 'middle' }, extra || {}));
  t.textContent = s;
  return t;
}
function dots(parent, xs, ys, xf, yf, color, r, name) {
  for (let i = 0; i < xs.length; i++) {
    const c = el(parent, 'circle', { cx: xf(xs[i]).toFixed(1), cy: yf(ys[i]).toFixed(1), r: r, fill: color });
    
    
  }
}
function errs(parent, xs, ys, es, xf, yf, color) {
  for (let i = 0; i < xs.length; i++) {
    const x = xf(xs[i]);
    const b = el(parent, 'path', { d: 'M' + (x - 2) + ',' + yf(ys[i] + es[i]) + 'h4M' + x + ',' + yf(ys[i] + es[i]) + 'V' + yf(ys[i] - es[i]) + 'M' + (x - 2) + ',' + yf(ys[i] - es[i]) + 'h4', stroke: color, 'stroke-width': 0.9, fill: 'none', opacity: 0.7 });
    
    
  }
}
function line(parent, xs, ys, xf, yf, stroke, width, dash, name) {
  const d = xs.map((x, i) => (i ? 'L' : 'M') + xf(x).toFixed(1) + ',' + yf(ys[i]).toFixed(1)).join('');
  const p = el(parent, 'path', { d: d, fill: 'none', stroke: stroke, 'stroke-width': width, 'stroke-dasharray': dash || 'none' });
  
  
  return p;
}

// ---- Fig 2a ----
(function () {
  const g = document.getElementById('mapAxes');
  const rows = [
    { y50: 204, k: 0.42, top: 111, bot: 218, tl: 238, tr: 313, el: 400, er: 471, lab: 230, trion: trionPeak001, exc: excitonPeak001, n: '001' },
    { y50: 350, k: 0.4225, top: 256, bot: 365, tl: 244, tr: 319, el: 400, er: 471, lab: 378, trion: trionPeak011, exc: excitonPeak011, n: '011' },
    { y50: 503, k: 0.425, top: 406, bot: 515, tl: 247, tr: 318, el: 402, er: 472, lab: 529, trion: trionPeak111, exc: excitonPeak111, n: '111' }
  ];
  rows.forEach(r => {
    const yf = T => r.y50 - (T - 50) * r.k;
    const xl = E => r.tl + (E - 1.8) / 0.1 * (r.tr - r.tl);
    const xr = E => r.el + (E - 1.8) / 0.1 * (r.er - r.el);
    mapTempTicks.forEach(T => { txt(g, 175, yf(T) + 4.5, String(T), 'end'); });
    mapEnergyTicks.forEach(E => { txt(g, xl(E), r.lab, E.toFixed(1)); txt(g, xr(E), r.lab, E.toFixed(1)); });
    const yt = el(g, 'text', { transform: 'translate(138,' + ((r.top + r.bot) / 2) + ') rotate(-90)', 'text-anchor': 'middle', 'font-size': 12 });
    yt.textContent = 'Temperature (K)';
    
    
    line(g, mapTemps, r.trion, xl, yf, '#fff', 1.4, '5,3', 'trion-peak-trace-' + r.n);
    line(g, mapTemps, r.exc, xr, yf, '#fff', 1.4, '5,3', 'exciton-peak-trace-' + r.n);
    // splitting arrows between trion and exciton peaks at the top and bottom temperatures
    [5, 0].forEach(i => {
      const y = yf(mapTemps[i]);
      const a = el(g, 'path', { d: 'M' + xl(r.trion[i]) + ',' + y + 'L' + xr(r.exc[i]) + ',' + y + 'M' + (xl(r.trion[i]) + 5) + ',' + (y - 3) + 'L' + xl(r.trion[i]) + ',' + y + 'L' + (xl(r.trion[i]) + 5) + ',' + (y + 3) + 'M' + (xr(r.exc[i]) - 5) + ',' + (y - 3) + 'L' + xr(r.exc[i]) + ',' + y + 'L' + (xr(r.exc[i]) - 5) + ',' + (y + 3), stroke: '#e8301a', 'stroke-width': 1.4, fill: 'none' });
      
      
    });
  });
})();

// ---- Fig 2b ----
(function () {
  const ax = document.getElementById('fwhmAxes');
  const mk = document.getElementById('fwhmMarks');
  const xf = T => 604 + T * 0.627;
  const yTop = v => 161 + (40 - v) * 5.6;
  const yBot = v => 331 + (40 - v) * 5.65;
  fwhmYTicks.forEach(v => {
    txt(ax, 588, yTop(v) + 4.5, String(v), 'end');
    txt(ax, 588, yBot(v) + 4.5, String(v), 'end');
    el(ax, 'line', { x1: 590, x2: 595, y1: yTop(v), y2: yTop(v), stroke: '#111' });
    el(ax, 'line', { x1: 590, x2: 595, y1: yBot(v), y2: yBot(v), stroke: '#111' });
  });
  fwhmXTicks.forEach(T => {
    txt(ax, xf(T), 512, String(T));
    el(ax, 'line', { x1: xf(T), x2: xf(T), y1: 494, y2: 489, stroke: '#111' });
    el(ax, 'line', { x1: xf(T), x2: xf(T), y1: 295, y2: 290, stroke: '#111' });
  });
  dots(mk, fwhmTemps, trionFwhm011, xf, yTop, '#72b52a', 3.1, 'trion-fwhm-011-point');
  dots(mk, fwhmTemps, trionFwhm001, xf, yTop, '#e8241d', 3.1, 'trion-fwhm-001-point');
  dots(mk, fwhmTempsBlack, trionFwhm111, xf, yTop, '#111', 3.1, 'trion-fwhm-111-point');
  dots(mk, fwhmTemps, excitonFwhm011, xf, yBot, '#72b52a', 3.1, 'exciton-fwhm-011-point');
  dots(mk, fwhmTemps, excitonFwhm001, xf, yBot, '#e8241d', 3.1, 'exciton-fwhm-001-point');
  dots(mk, fwhmTempsBlack, excitonFwhm111, xf, yBot, '#111', 3.1, 'exciton-fwhm-111-point');
})();

// ---- Fig 2c ----
(function () {
  const ax = document.getElementById('plAxes');
  const mk = document.getElementById('plMarks');
  const yf = E => 601 + (1.90 - E) * 1325;
  const panels = [
    { x0: 191, k: 0.537, left: 177, exc: excitonPL001, tri: trionPL001, ef: excitonFit001, tf: trionFit001, n: '001' },
    { x0: 409, k: 0.54, left: 393, exc: excitonPL011, tri: trionPL011, ef: excitonFit011, tf: trionFit011, n: '011' },
    { x0: 629, k: 0.537, left: 611, exc: excitonPL111, tri: trionPL111, ef: excitonFit111, tf: trionFit111, n: '111' }
  ];
  panels.forEach((p, pi) => {
    const xf = T => p.x0 + T * p.k;
    plXTicks.forEach(T => {
      txt(ax, xf(T), 751, String(T));
      el(ax, 'line', { x1: xf(T), x2: xf(T), y1: 735, y2: 730, stroke: '#111' });
    });
    plYTicks.forEach(E => {
      el(ax, 'line', { x1: p.left, x2: p.left + 5, y1: yf(E), y2: yf(E), stroke: '#111' });
      if (pi === 0) txt(ax, p.left - 3, yf(E) + 4.5, E.toFixed(2), 'end');
    });
    line(mk, fitTemps, p.ef, xf, yf, '#1c2c95', 1, '3,2', 'exciton-varshni-fit-' + p.n);
    line(mk, fitTemps, p.tf, xf, yf, '#e8241d', 1, '3,2', 'trion-varshni-fit-' + p.n);
    dots(mk, plTemps, p.exc, xf, yf, '#1c2c95', 2.9, 'exciton-pl-point-' + p.n);
    dots(mk, plTemps, p.tri, xf, yf, '#e8241d', 2.9, 'trion-pl-point-' + p.n);
  });
})();

// ---- Fig 4 ----
(function () {
  const ax = document.getElementById('beAxes');
  const mk = document.getElementById('beMarks');
  const xf = T => 143 + T * 0.933;
  const yf = v => 127 + (90 - v) * 2.193;
  beYTicks.forEach(v => {
    txt(ax, 136, yf(v) + 4.5, String(v), 'end');
    el(ax, 'line', { x1: 143, x2: 148, y1: yf(v), y2: yf(v), stroke: '#111' });
  });
  beXTicks.forEach(T => {
    txt(ax, xf(T), 338, String(T));
    el(ax, 'line', { x1: xf(T), x2: xf(T), y1: 321, y2: 316, stroke: '#111' });
  });
  line(mk, etTemps, etValues, xf, yf, '#111', 2, null, 'bare-trion-energy-line');
  line(mk, modelTemps, model001, xf, yf, '#1a1ae0', 1.8, null, 'model-001-curve');
  line(mk, modelTemps, model110, xf, yf, '#22dd22', 1.8, null, 'model-110-curve');
  line(mk, modelTemps, model111, xf, yf, '#ee1c1c', 1.8, null, 'model-111-curve');
  errs(mk, beTemps, be001, be001Err, xf, yf, '#1a1ae0');
  errs(mk, beTemps, be110, be110Err, xf, yf, '#22aa22');
  errs(mk, beTemps, be111, be111Err, xf, yf, '#ee1c1c');
  dots(mk, beTemps, be001, xf, yf, '#1a1ae0', 3.6, 'be-001-point');
  dots(mk, beTemps, be110, xf, yf, '#22dd22', 3.6, 'be-110-point');
  dots(mk, beTemps, be111, xf, yf, '#ee1c1c', 3.6, 'be-111-point');

  const ia = document.getElementById('insetAxes');
  const im = document.getElementById('insetMarks');
  const ixf = m => 312 + m / 0.5 * 92;
  const iyl = v => 197 - (v - 10) * 1.9;
  const iyr = v => 197 - (v - 40) * 1.9;
  insetXTicks.forEach(m => { txt(ia, ixf(m), 204, m.toFixed(1)); });
  insetLeftTicks.forEach(v => { txt(ia, 309, iyl(v) + 2.5, String(v), 'end', { fill: '#1a1ae0' }); });
  insetRightTicks.forEach(v => { txt(ia, 407, iyr(v) + 2.5, String(v), 'start', { fill: '#ee1c1c' }); });
  line(im, insetMu, insetEp, ixf, iyl, '#1a1ae0', 1, null, 'inset-theory-curve');
  errs(im, insetSampleMu, insetSampleBE, insetSampleErr, ixf, iyr, '#ee1c1c');
  dots(im, insetSampleMu, insetSampleBE, ixf, iyr, '#ee1c1c', 1.6, 'inset-sample-point');
  insetSampleNames.forEach((n, i) => {
    const t = txt(im, ixf(insetSampleMu[i]) + (i ? 6 : -6), iyr(insetSampleBE[i]) + (i ? -9 : 20), n, 'middle', { fill: '#ee1c1c', 'font-size': 6.5 });
    
    
  });
})();
</script>
</body></html>
